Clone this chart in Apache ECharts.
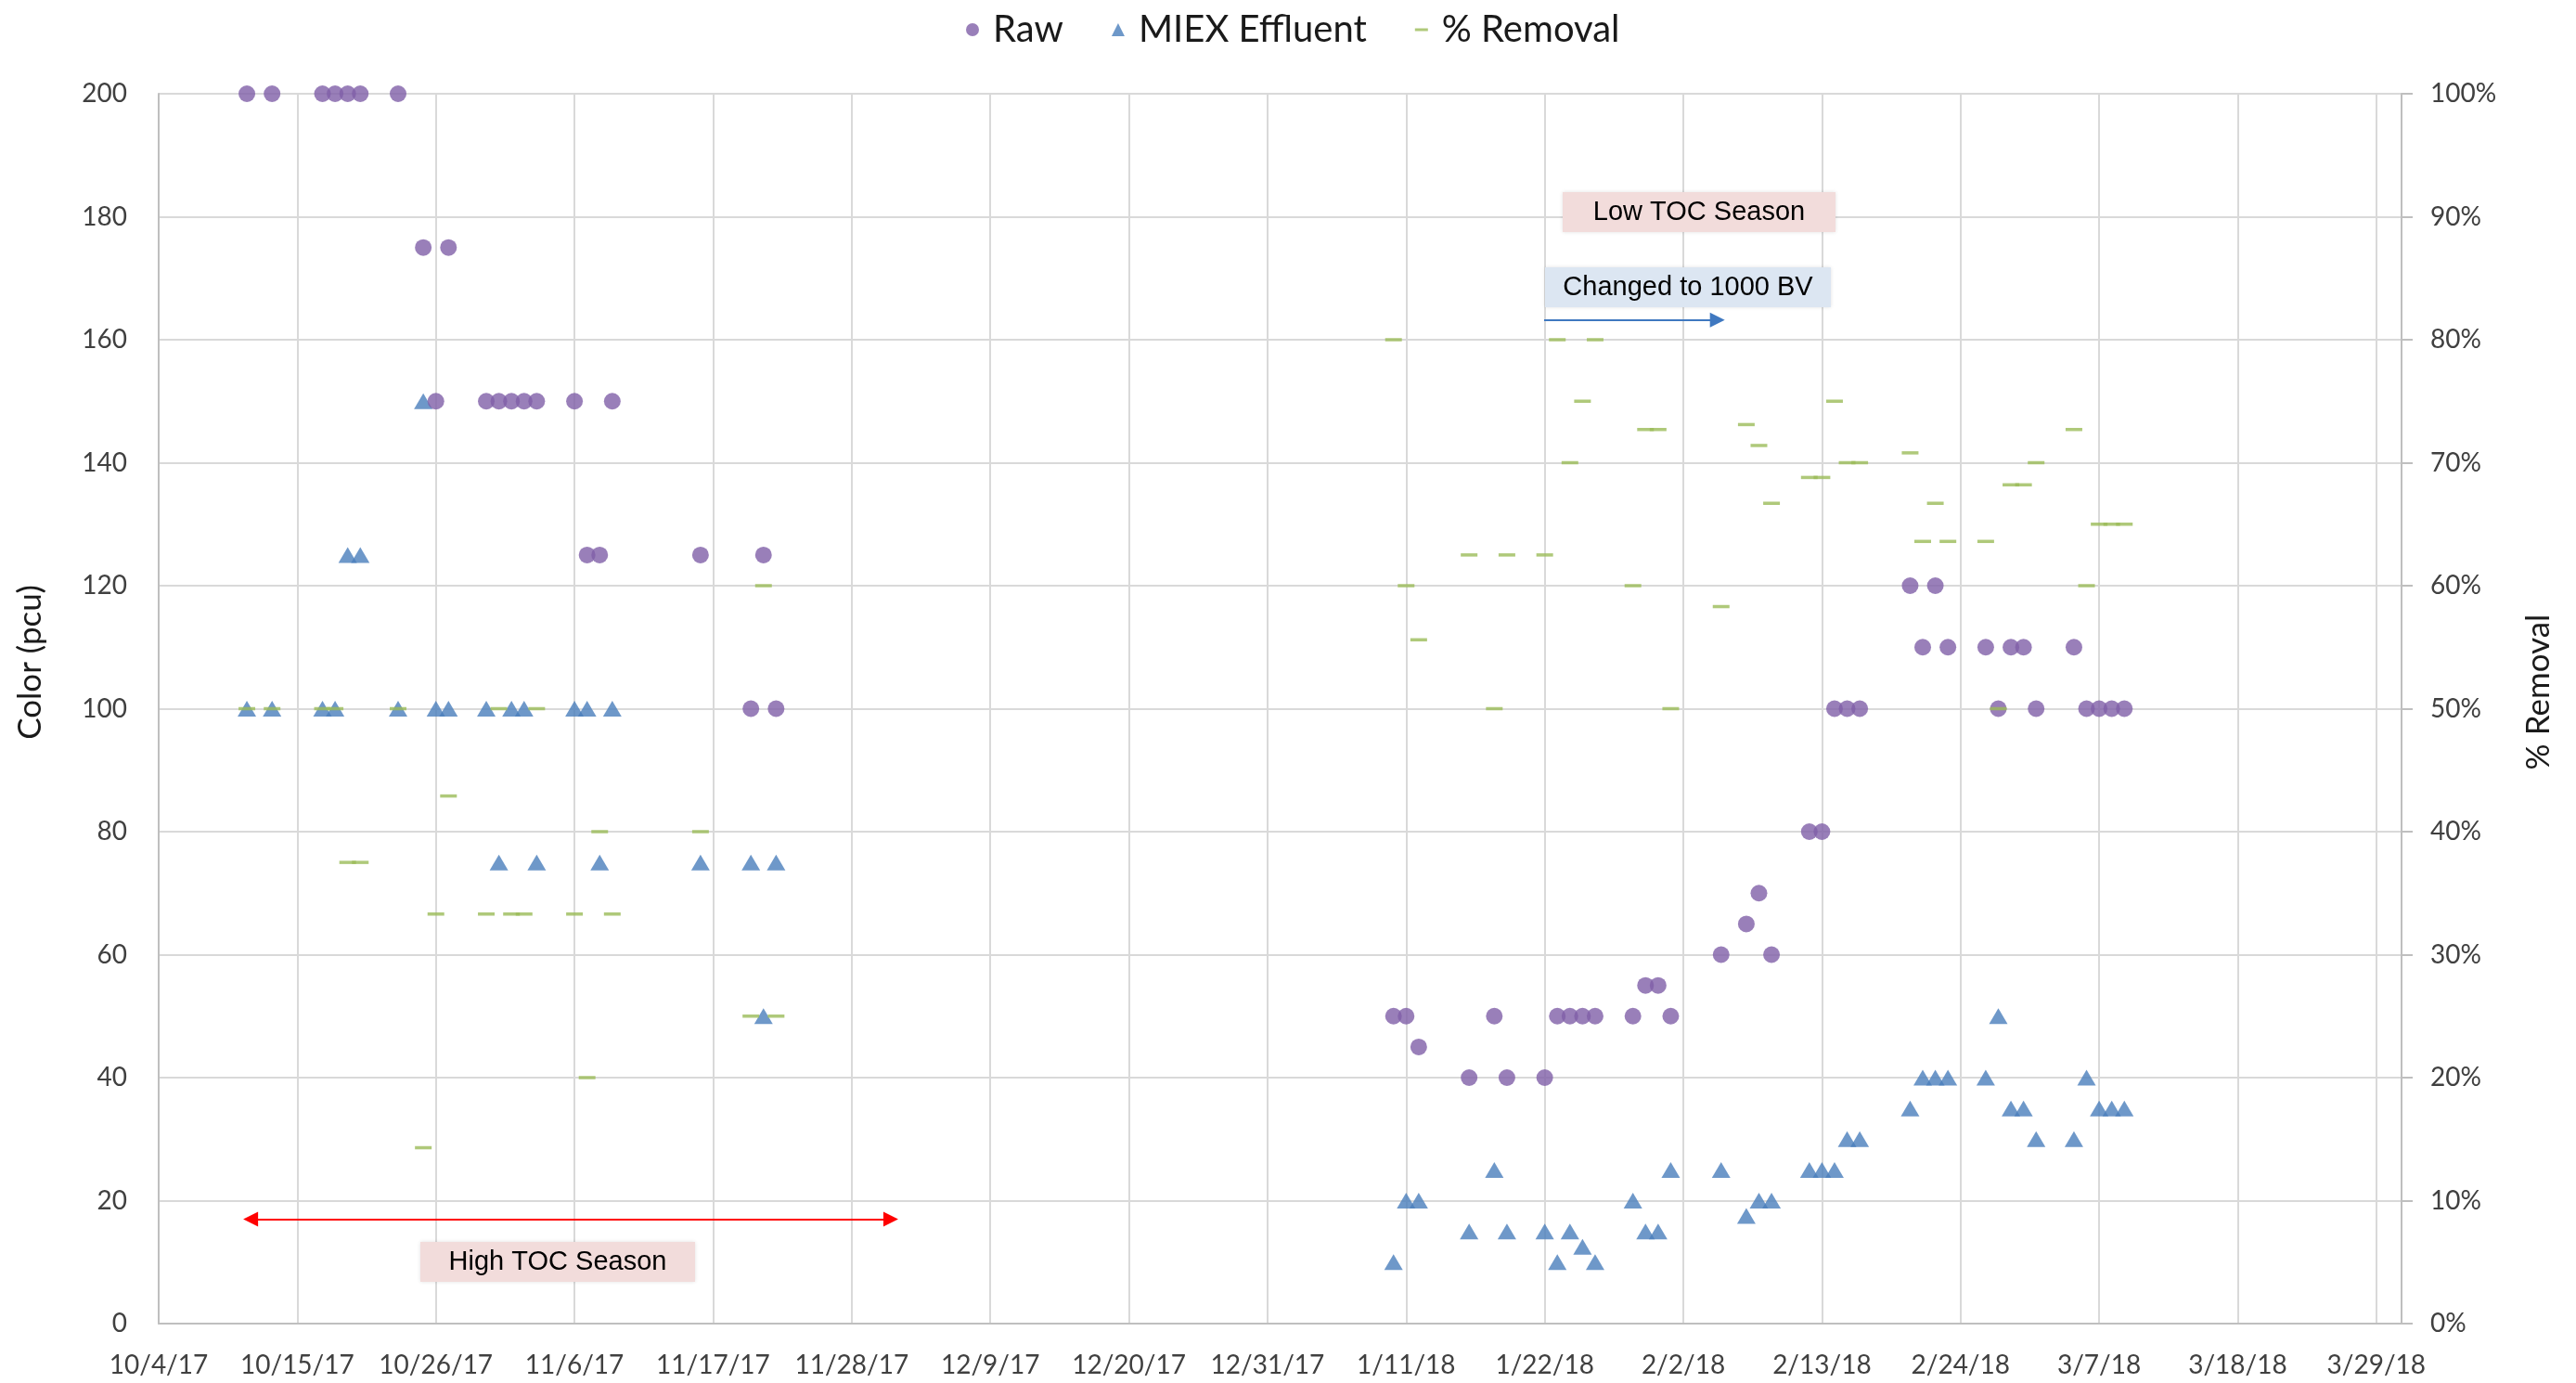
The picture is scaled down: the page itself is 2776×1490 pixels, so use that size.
<!DOCTYPE html>
<html><head><meta charset="utf-8">
<script src="https://cdn.jsdelivr.net/npm/echarts@6/dist/echarts.min.js"></script>
<style>html,body{margin:0;padding:0;background:#fff}#c{width:2776px;height:1490px}</style>
</head><body><div id="c"></div>
<script>
// ---- data ----
const axisStart = '2017-10-04';
const dates = [
  '2017-10-11','2017-10-13','2017-10-17','2017-10-18','2017-10-19','2017-10-20','2017-10-23',
  '2017-10-25','2017-10-26','2017-10-27','2017-10-30','2017-10-31','2017-11-01','2017-11-02',
  '2017-11-03','2017-11-06','2017-11-07','2017-11-08','2017-11-09','2017-11-16','2017-11-20',
  '2017-11-21','2017-11-22',
  '2018-01-10','2018-01-11','2018-01-12','2018-01-16','2018-01-18','2018-01-19','2018-01-22',
  '2018-01-23','2018-01-24','2018-01-25','2018-01-26','2018-01-29','2018-01-30','2018-01-31',
  '2018-02-01','2018-02-05','2018-02-07','2018-02-08','2018-02-09','2018-02-12','2018-02-13',
  '2018-02-14','2018-02-15','2018-02-16','2018-02-20','2018-02-21','2018-02-22','2018-02-23',
  '2018-02-26','2018-02-27','2018-02-28','2018-03-01','2018-03-02','2018-03-05','2018-03-06',
  '2018-03-07','2018-03-08','2018-03-09'
];
const rawColor = [
  200,200,200,200,200,200,200,175,150,175,150,150,150,150,150,150,125,125,150,125,100,125,100,
  50,50,45,40,50,40,40,50,50,50,50,50,55,55,50,60,65,70,60,80,80,100,100,100,
  120,110,120,110,110,100,110,110,100,110,100,100,100,100
];
const miexColor = [
  100,100,100,100,125,125,100,150,100,100,100,75,100,100,75,100,100,75,100,75,75,50,75,
  10,20,20,15,25,15,15,10,15,12.5,10,20,15,15,25,25,17.5,20,20,25,25,25,30,30,
  35,40,40,40,40,50,35,35,30,30,40,35,35,35
];
const removalPct = [
  50,50,50,50,37.5,37.5,50,14.3,33.3,42.9,33.3,50,33.3,33.3,50,33.3,20,40,33.3,40,25,60,25,
  80,60,55.6,62.5,50,62.5,62.5,80,70,75,80,60,72.7,72.7,50,58.3,73.1,71.4,66.7,68.8,68.8,75,70,70,
  70.8,63.6,66.7,63.6,63.6,50,68.2,68.2,70,72.7,60,65,65,65
];
const leftTicks = { min: 0, max: 200, step: 20 };
const rightTicks = { min: 0, max: 100, step: 10 };
const xTicks = { minDay: 0, maxDay: 178, stepDays: 11 };

// ---- helpers ----
const DAY = 86400000;
const t0 = Date.parse(axisStart);
const dayOf = d => (Date.parse(d) - t0) / DAY;
const fmtDay = v => {
  if (Math.abs(v % xTicks.stepDays) > 1e-6) return '';
  const dt = new Date(t0 + v * DAY);
  return (dt.getUTCMonth() + 1) + '/' + dt.getUTCDate() + '/' + String(dt.getUTCFullYear()).slice(2);
};

const FONT = 'Lato';
const chart = echarts.init(document.getElementById('c'), null, { renderer: 'canvas' });

const dashIcon = 'path://M0,0 L0,0 M0,5.5 L14,5.5 L14,8.5 L0,8.5 Z M14,14 L14,14';
const annFont = '29px "Liberation Sans"';

chart.setOption({
  animation: false,
  backgroundColor: '#ffffff',
  textStyle: { fontFamily: FONT },
  grid: { left: 171, right: 188, top: 101, bottom: 64, containLabel: false },
  legend: {
    top: 7, left: 1036,
    itemWidth: 14, itemHeight: 14, itemGap: 52,
    textStyle: { fontSize: 40, color: '#1a1a1a', fontFamily: FONT, padding: [0, 0, 0, 10] },
    data: [
      { name: 'Raw', icon: 'circle' },
      { name: 'MIEX Effluent', icon: 'triangle' },
      { name: '% Removal', icon: dashIcon }
    ]
  },
  xAxis: {
    type: 'value', min: xTicks.minDay, max: xTicks.maxDay, interval: xTicks.stepDays,
    axisLine: { show: true, lineStyle: { color: '#BFBFBF', width: 2 } },
    axisTick: { show: false },
    splitLine: { show: true, lineStyle: { color: '#D9D9D9', width: 2 } },
    axisLabel: { fontSize: 28, color: '#404040', margin: 31, formatter: fmtDay, fontFamily: FONT }
  },
  yAxis: [
    {
      type: 'value', position: 'left', min: leftTicks.min, max: leftTicks.max, interval: leftTicks.step,
      name: 'Color (pcu)', nameLocation: 'middle', nameRotate: 90, nameGap: 121,
      nameTextStyle: { fontSize: 35, color: '#1a1a1a', fontFamily: FONT, padding: [0, 0, 0, 100] },
      axisLine: { show: true, lineStyle: { color: '#BFBFBF', width: 2 } },
      axisTick: { show: false },
      splitLine: { show: true, lineStyle: { color: '#D9D9D9', width: 2 } },
      axisLabel: { fontSize: 28, color: '#404040', margin: 34, fontFamily: FONT }
    },
    {
      type: 'value', position: 'right', min: rightTicks.min, max: rightTicks.max, interval: rightTicks.step,
      name: '% Removal', nameLocation: 'middle', nameRotate: 90, nameGap: 130,
      nameTextStyle: { fontSize: 35, color: '#1a1a1a', fontFamily: FONT, padding: [0, 0, 0, 36] },
      axisLine: { show: true, lineStyle: { color: '#BFBFBF', width: 2 } },
      axisTick: { show: true, inside: false, length: 12, lineStyle: { color: '#BFBFBF', width: 2 } },
      splitLine: { show: false },
      axisLabel: { fontSize: 28, color: '#404040', margin: 31, formatter: '{value}%', fontFamily: FONT }
    }
  ],
  series: [
    {
      name: 'MIEX Effluent', type: 'scatter', yAxisIndex: 0, z: 2,
      symbol: 'triangle', symbolSize: [20, 17],
      itemStyle: { color: '#4A7EBB' },
      data: dates.map((d, i) => [dayOf(d), miexColor[i]]),
      markLine: {
        silent: true, symbol: ['none', 'triangle'], symbolSize: 16, precision: 4,
        label: { show: false },
        lineStyle: { color: '#3F78C0', width: 2, type: 'solid' },
        data: [[{ coord: [dayOf('2018-01-22') - 0.05, 163.2] }, { coord: [dayOf('2018-02-05') - 0.3, 163.2] }]]
      }
    },
    {
      name: 'Raw', type: 'scatter', yAxisIndex: 0, z: 3,
      symbol: 'circle', symbolSize: 18,
      itemStyle: { color: '#7F5FA8' },
      data: dates.map((d, i) => [dayOf(d), rawColor[i]]),
      markLine: {
        silent: true, symbol: ['triangle', 'triangle'], symbolSize: 16, precision: 4,
        label: { show: false },
        lineStyle: { color: '#FF0000', width: 2, type: 'solid' },
        data: [
          [{ coord: [58, 187.8] }, { coord: [178.1, 187.8] }],
          [{ coord: [7.3, 17] }, { coord: [58.1, 17] }]
        ]
      }
    },
    {
      name: '% Removal', type: 'scatter', yAxisIndex: 1, z: 4,
      symbol: 'rect', symbolSize: [18, 3.5],
      itemStyle: { color: '#9BBB59' },
      data: dates.map((d, i) => [dayOf(d), removalPct[i]])
    }
  ],
  graphic: [
    { type: 'rect', shape: { x: 1684, y: 207, width: 294, height: 43 }, style: { fill: '#F2DCDB', shadowBlur: 4, shadowColor: 'rgba(0,0,0,0.12)' }, z: 10 },
    { type: 'text', x: 1831, y: 228.5, style: { text: 'Low TOC Season', fill: '#000', font: annFont, align: 'center', verticalAlign: 'middle' }, z: 11 },
    { type: 'rect', shape: { x: 1665, y: 288, width: 308, height: 43 }, style: { fill: '#DCE6F2', shadowBlur: 4, shadowColor: 'rgba(0,0,0,0.12)' }, z: 10 },
    { type: 'text', x: 1819, y: 309.5, style: { text: 'Changed to 1000 BV', fill: '#000', font: annFont, align: 'center', verticalAlign: 'middle' }, z: 11 },
    { type: 'rect', shape: { x: 453, y: 1338, width: 296, height: 43 }, style: { fill: '#F2DCDB', shadowBlur: 4, shadowColor: 'rgba(0,0,0,0.12)' }, z: 10 },
    { type: 'text', x: 601, y: 1359.5, style: { text: 'High TOC Season', fill: '#000', font: annFont, align: 'center', verticalAlign: 'middle' }, z: 11 }
  ]
});
</script>
</body></html>
